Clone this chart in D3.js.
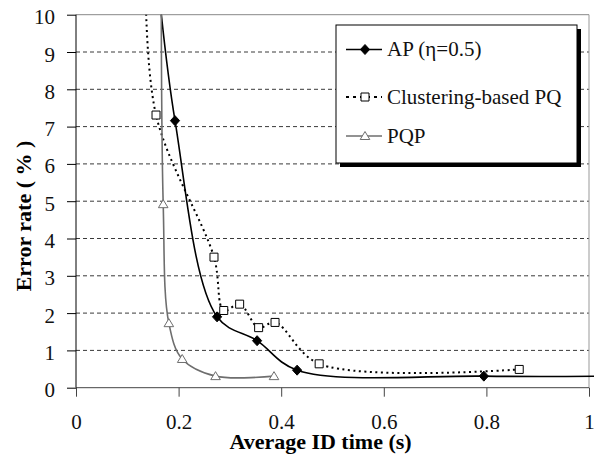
<!DOCTYPE html>
<html lang="en">
  <head>
    <meta charset="UTF-8" />
    <title>Error rate vs average ID time</title>
    <script src="https://cdn.jsdelivr.net/npm/d3@7"></script>
    <style>
      body { margin: 0; background: #fff; }
      svg { display: block; }
    </style>
  </head>
  <body>
    <svg id="chart" width="600" height="454"></svg>
    <script>
      // values (x = average ID time in s, y = error rate in %)
      var apX = [0.152, 0.193, 0.275, 0.353, 0.431, 0.795, 1.05];
      var apY = [12.0, 7.16, 1.9, 1.26, 0.47, 0.31, 0.31];
      var cpqX = [0.135, 0.156, 0.269, 0.288, 0.319, 0.356, 0.388, 0.474, 0.864];
      var cpqY = [11.5, 7.31, 3.5, 2.07, 2.24, 1.61, 1.75, 0.64, 0.49];
      var pqpX = [0.166, 0.17, 0.181, 0.207, 0.272, 0.386];
      var pqpY = [12.0, 4.92, 1.73, 0.77, 0.31, 0.31];
      var xTicks = [0, 0.2, 0.4, 0.6, 0.8, 1];
      var yTicks = [0, 1, 2, 3, 4, 5, 6, 7, 8, 9, 10];
      var seriesNames = ["AP (\u03b7=0.5)", "Clustering-based PQ", "PQP"];

      var FONT = "Liberation Serif";
      var svg = d3.select("#chart");
      var x = d3.scaleLinear().domain([0, 1]).range([76, 589]);
      var y = d3.scaleLinear().domain([0, 10]).range([387.7, 14.7]);

      function zip(xs, ys) {
        return xs.map(function (v, i) { return [v, ys[i]]; });
      }
      var series = [
        { name: seriesNames[0], pts: zip(apX, apY), color: "#000", width: 1.6, dash: null, marker: "diamond" },
        { name: seriesNames[1], pts: zip(cpqX, cpqY), color: "#000", width: 2, dash: "2,3.5", marker: "square" },
        { name: seriesNames[2], pts: zip(pqpX, pqpY), color: "#6e6e6e", width: 1.6, dash: null, marker: "triangle" }
      ];

      // grid lines
      svg.append("g")
        .selectAll("line")
        .data(yTicks.filter(function (d) { return d > 0 && d < 10; }))
        .join("line")
        .attr("x1", x(0)).attr("x2", x(1))
        .attr("y1", function (d) { return y(d); })
        .attr("y2", function (d) { return y(d); })
        .attr("stroke", "#3a3a3a")
        .attr("stroke-dasharray", "4,3");

      // top and right border
      svg.append("line")
        .attr("x1", x(0)).attr("x2", x(1)).attr("y1", y(10)).attr("y2", y(10))
        .attr("stroke", "#888");
      svg.append("line")
        .attr("x1", x(1)).attr("x2", x(1)).attr("y1", y(10)).attr("y2", y(0))
        .attr("stroke", "#999");

      // axes
      var xAxis = svg.append("g")
        .attr("transform", "translate(0," + y(0) + ")")
        .call(d3.axisBottom(x).tickValues(xTicks).tickSize(9).tickPadding(17)
          .tickFormat(function (d) { return String(d); }));
      xAxis.attr("font-family", FONT).attr("font-size", 21);
      xAxis.select(".domain").attr("stroke", "#444").attr("d", "M" + x(0) + ",0H" + x(1));
      xAxis.selectAll(".tick line").attr("stroke", "#444");
      xAxis.selectAll("text").attr("fill", "#111");

      var yAxis = svg.append("g")
        .attr("transform", "translate(" + x(0) + ",0)")
        .call(d3.axisLeft(y).tickValues(yTicks).tickSize(9).tickPadding(12));
      yAxis.attr("font-family", FONT).attr("font-size", 21);
      yAxis.select(".domain").attr("stroke", "#000").attr("d", "M0," + y(10) + "V" + y(0));
      yAxis.selectAll("text").attr("dy", "0.43em").attr("fill", "#111");

      // axis titles
      svg.append("text")
        .attr("x", 320.5).attr("y", 449)
        .attr("text-anchor", "middle")
        .attr("font-family", FONT)
        .attr("font-size", 22).attr("font-weight", "bold")
        .text("Average ID time (s)");
      svg.append("text")
        .attr("transform", "translate(31,216) rotate(-90)")
        .attr("text-anchor", "middle")
        .attr("font-family", FONT)
        .attr("font-size", 22).attr("font-weight", "bold")
        .text("Error rate ( % )");

      // lines
      svg.append("clipPath").attr("id", "plotclip")
        .append("rect")
        .attr("x", x(0)).attr("y", y(10))
        .attr("width", x(1) - x(0) + 5).attr("height", y(0) - y(10) + 2);

      var line = d3.line()
        .x(function (d) { return x(d[0]); })
        .y(function (d) { return y(d[1]); })
        .curve(d3.curveCatmullRom.alpha(0.5));

      var plot = svg.append("g").attr("clip-path", "url(#plotclip)");
      series.forEach(function (s) {
        plot.append("path")
          .datum(s.pts)
          .attr("d", line)
          .attr("fill", "none")
          .attr("stroke", s.color)
          .attr("stroke-width", s.width)
          .attr("stroke-dasharray", s.dash);
      });

      function markerPath(kind) {
        if (kind === "diamond") return "M0,-5L4.6,0L0,5L-4.6,0Z";
        if (kind === "square") return "M-4,-4H4V4H-4Z";
        return "M0,-4.5L4.8,3.5H-4.8Z";
      }
      function drawMarker(g, kind, color) {
        g.append("path")
          .attr("d", markerPath(kind))
          .attr("fill", kind === "diamond" ? "#000" : "#fff")
          .attr("stroke", color)
          .attr("stroke-width", 1);
      }

      series.forEach(function (s) {
        s.pts.filter(function (p) { return p[0] <= 1 && p[1] <= 10; })
          .forEach(function (p) {
            var g = svg.append("g").attr("transform", "translate(" + x(p[0]) + "," + y(p[1]) + ")");
            drawMarker(g, s.marker, s.color);
          });
      });

      // legend
      var legend = svg.append("g").attr("transform", "translate(336,25)");
      legend.append("rect").attr("x", 4).attr("y", 4).attr("width", 241).attr("height", 138).attr("fill", "#000");
      legend.append("rect").attr("x", 0).attr("y", 0).attr("width", 241).attr("height", 138)
        .attr("fill", "#fff").attr("stroke", "#000");
      var rowY = [24.5, 72, 111];
      series.forEach(function (s, i) {
        var row = legend.append("g").attr("transform", "translate(0," + rowY[i] + ")");
        row.append("line")
          .attr("x1", 10).attr("x2", 46).attr("y1", 0).attr("y2", 0)
          .attr("stroke", s.color).attr("stroke-width", s.width)
          .attr("stroke-dasharray", s.dash ? "3,4" : null);
        drawMarker(row.append("g").attr("transform", "translate(29,0)"), s.marker, s.color);
        row.append("text")
          .attr("x", 51).attr("y", 0).attr("dy", "0.33em")
          .attr("font-family", FONT)
          .attr("font-size", 21).attr("fill", "#111")
          .text(s.name);
      });
    </script>
  </body>
</html>
